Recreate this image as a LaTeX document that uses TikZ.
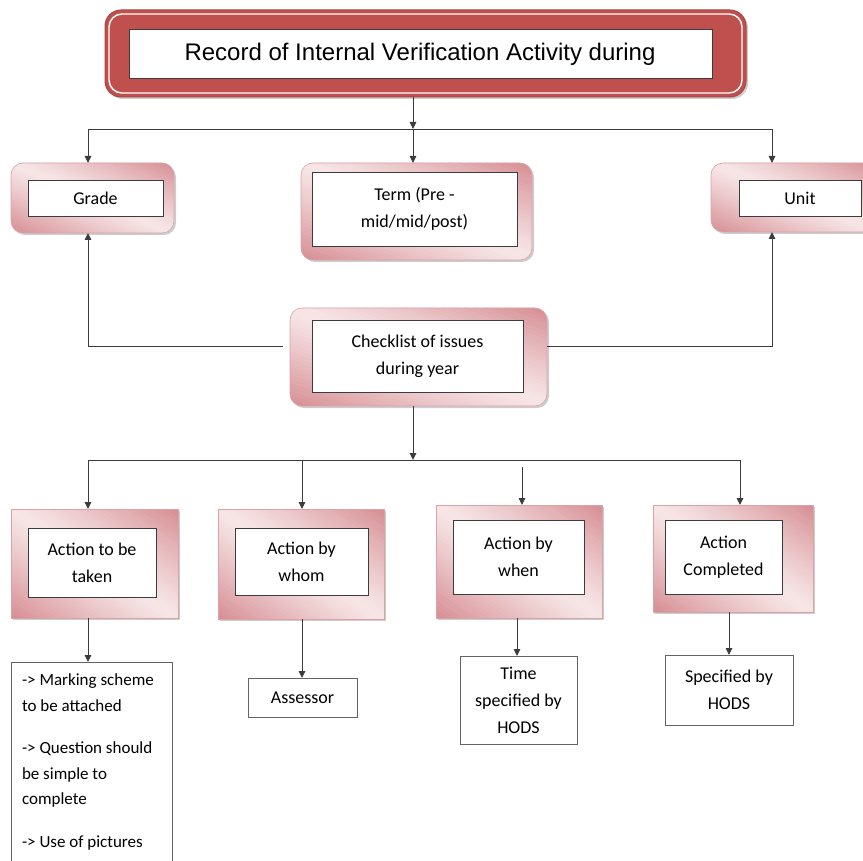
\documentclass[tikz,border=0pt]{standalone}
\usepackage{fontspec}
\setmainfont{Carlito}
\newfontfamily\titlefont{Liberation Sans}
\usetikzlibrary{arrows.meta}

\definecolor{titlered}{HTML}{C0504D}
\definecolor{titleedge}{HTML}{A94542}
\definecolor{pinklight}{HTML}{F7E6E7}
\definecolor{pinkdark}{HTML}{D68D92}
\definecolor{pinkedge}{HTML}{DCA3A6}
\definecolor{inkline}{HTML}{3C3C3C}

\tikzset{
  every node/.style={inner sep=0pt, outer sep=0pt},
  txt/.style={font=\fontsize{18}{27}\selectfont, align=center},
  softshadow/.style={preaction={draw=none, fill=black, fill opacity=0.2,
    transform canvas={xshift=2pt, yshift=-2pt}}},
  titleframe/.style={softshadow, draw=titleedge, line width=1pt, fill=titlered,
    rounded corners=16pt},
  titleinner/.style={draw=inkline, line width=0.9pt, fill=white},
  panelbase/.style={softshadow, fill=pinklight},
  paneledge/.style={draw=pinkedge, line width=0.6pt},
  innerbox/.style={draw=inkline, line width=0.9pt, fill=white},
  notebox/.style={draw=inkline!80, line width=0.9pt, fill=white},
  link/.style={draw=inkline, line width=0.9pt},
  arr/.style={link, -{Triangle[length=7pt,width=6.5pt]}},
}

% pink panel with a diagonal gradient: darker towards the lower-left and
% upper-right corners, light across the other diagonal
% #1 name, #2 left, #3 top, #4 right, #5 bottom, #6 corner radius
\newcommand\gradpanel[6]{%
  \pgfmathsetmacro\pw{#4-#2}%
  \pgfmathsetmacro\ph{#5-#3}%
  \node[panelbase, rounded corners=#6, minimum width=\pw pt, minimum height=\ph pt]
    (#1) at ({(#2+#4)/2},{(#3+#5)/2}) {};
  \begin{scope}
    \clip[rounded corners=#6] (#2,#3) rectangle (#4,#5);
    \begin{scope}[shift={(#2,#5)}, x=\pw pt, y=\ph pt]
      \foreach \a in {0,0.04,...,1.97}{%
        \pgfmathtruncatemacro\dk{min(100,100*abs(\a+0.02-1)^1.15)}%
        \fill[pinkdark!\dk!pinklight]
          (\a+2,-2) -- (\a+2.05,-2) -- (\a-1.95,2) -- (\a-2,2) -- cycle;
      }
    \end{scope}
  \end{scope}
  \draw[paneledge, rounded corners=#6] (#2,#3) rectangle (#4,#5);
}

\begin{document}
\begin{tikzpicture}[x=1pt,y=-1pt]
\useasboundingbox (0,0) rectangle (863,861);
\clip (0,0) rectangle (863,861);

% title banner
\node[titleframe, minimum width=641pt, minimum height=87pt] (titleo) at (425.5,53.5) {};
\draw[white, line width=1.4pt, rounded corners=13pt]
  ([xshift=4pt,yshift=-4pt]titleo.north west) rectangle ([xshift=-4pt,yshift=4pt]titleo.south east);
\node[titleinner, minimum width=583pt, minimum height=49pt] (title) at (420.5,53.5) {};
\node[font=\titlefont\fontsize{24}{28}\selectfont] (titletext) at (420,54) {Record of Internal Verification Activity during};

% second row
\gradpanel{gradeo}{11}{163}{174}{233}{12pt}
\node[innerbox, txt, minimum width=135pt, minimum height=36pt] (grade) at (95.5,198) {Grade};

\gradpanel{termo}{301}{163}{532}{260}{12pt}
\node[innerbox, txt, minimum width=205pt, minimum height=74pt] (term) at (414.5,209) {Term (Pre -\\mid/mid/post)};

\gradpanel{unito}{711}{163}{880}{232}{12pt}
\node[innerbox, txt, minimum width=122pt, minimum height=36pt] (unit) at (800,198) {Unit};

% checklist
\gradpanel{checko}{290}{308}{547}{406}{12pt}
\node[innerbox, txt, minimum width=211pt, minimum height=72pt] (check) at (417.5,356) {Checklist of issues\\during year};

% action row
\gradpanel{aoneo}{11}{509}{178}{618}{0pt}
\node[innerbox, txt, minimum width=128pt, minimum height=69pt] (aone) at (92,562.5) {Action to be\\taken};

\gradpanel{atwoo}{218}{509}{384}{619}{0pt}
\node[innerbox, txt, minimum width=133pt, minimum height=67pt] (atwo) at (301.5,561.5) {Action by\\whom};

\gradpanel{athreeo}{436}{505}{602}{618}{0pt}
\node[innerbox, txt, minimum width=131pt, minimum height=74pt] (athree) at (518.5,557) {Action by\\when};

\gradpanel{afouro}{653}{505}{813}{612}{0pt}
\node[innerbox, txt, minimum width=117pt, minimum height=74pt] (afour) at (723.5,557) {Action\\Completed};

% result boxes
\node[notebox, minimum width=161pt, minimum height=218pt] (nlist) at (91.5,771) {};
\node[anchor=north west, align=left, font=\fontsize{17}{25.5}\selectfont] (nlisttext) at (22,674)
  {-> Marking scheme\\to be attached\\[17pt]-> Question should\\be simple to\\complete\\[17pt]-> Use of pictures};

\node[notebox, txt, minimum width=109pt, minimum height=39pt] (assessor) at (302.5,697.5) {Assessor};
\node[notebox, txt, minimum width=117pt, minimum height=88pt] (timebox) at (518.5,700) {Time\\specified by\\HODS};
\node[notebox, txt, minimum width=128pt, minimum height=70pt] (specbox) at (729,690) {Specified by\\HODS};

% junction points
\coordinate (jtop) at (413,129);
\coordinate (jtl) at (88,129);
\coordinate (jtr) at (772,129);
\coordinate (cleft) at (283,346);
\coordinate (jmid) at (413,460);
\coordinate (jml) at (88,460);
\coordinate (jmr) at (740,460);
\coordinate (jm2) at (302,460);
\coordinate (jm3) at (522,467);
\coordinate (jm3b) at (517,618);

% connectors, upper part
\draw[arr] (jtop |- titleo.south) -- (jtop);
\draw[link] (jtl) -- (jtr);
\draw[arr] (jtop) -- (jtop |- termo.north);
\draw[arr] (jtl) -- (jtl |- gradeo.north);
\draw[arr] (jtr) -- (jtr |- unito.north);
\draw[arr] (cleft) -| (jtl |- gradeo.south);
\draw[arr] (checko.east |- cleft) -| (jtr |- unito.south);

% connectors, lower part
\draw[arr] (jmid |- checko.south) -- (jmid);
\draw[link] (jml) -- (jmr);
\draw[arr] (jml) -- (jml |- aoneo.north);
\draw[arr] (jm2) -- (jm2 |- atwoo.north);
\draw[arr] (jm3) -- (jm3 |- athreeo.north);
\draw[arr] (jmr) -- (jmr |- afouro.north);

\draw[arr] (jml |- aoneo.south) -- (jml |- nlist.north);
\draw[arr] (jm2 |- atwoo.south) -- (jm2 |- assessor.north);
\draw[arr] (jm3b) -- (jm3b |- timebox.north);
\draw[arr] (afouro.south -| specbox.north) -- (specbox.north);
\end{tikzpicture}
\end{document}
